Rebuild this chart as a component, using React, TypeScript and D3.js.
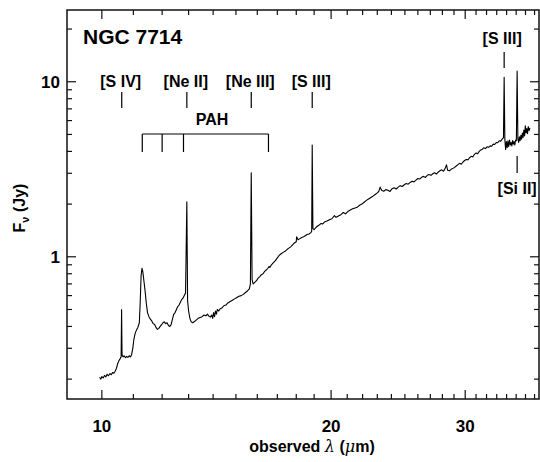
import React from "react";
import * as d3 from "d3";

const wavelength = [
  9.93, 9.97, 10.0, 10.04, 10.08, 10.12, 10.16, 10.2, 10.25, 10.29, 10.33, 10.37, 10.41, 10.45, 10.49, 10.53,
  10.57, 10.6, 10.615, 10.63, 10.66, 10.7, 10.74, 10.78, 10.82, 10.86, 10.9, 10.94, 10.98, 11.02, 11.06, 11.1,
  11.15, 11.2, 11.23, 11.26, 11.29, 11.32, 11.36, 11.4, 11.44, 11.48, 11.53, 11.58, 11.63, 11.68, 11.73, 11.78,
  11.83, 11.88, 11.93, 11.98, 12.03, 12.08, 12.13, 12.18, 12.23, 12.28, 12.33, 12.38, 12.43, 12.48, 12.53, 12.58,
  12.63, 12.68, 12.73, 12.78, 12.83, 12.88, 12.93, 12.96, 13.0, 13.05, 13.1, 13.16, 13.22, 13.3, 13.38, 13.46,
  13.54, 13.62, 13.7, 13.76, 13.82, 13.88, 13.94, 13.98, 14.02, 14.06, 14.1, 14.14, 14.18, 14.24, 14.3, 14.38,
  14.46, 14.55, 14.64, 14.74, 14.84, 14.94, 15.04, 15.14, 15.24, 15.34, 15.44, 15.54, 15.62, 15.67, 15.71, 15.75,
  15.8, 15.88, 15.96, 16.04, 16.12, 16.2, 16.28, 16.36, 16.44, 16.52, 16.58, 16.62, 16.7, 16.8, 16.9, 17.0,
  17.1, 17.2, 17.3, 17.4, 17.5, 17.6, 17.7, 17.8, 17.9, 18.0, 18.02, 18.1, 18.2, 18.3, 18.4, 18.5,
  18.6, 18.7, 18.8, 18.86, 18.89, 18.93, 19.0, 19.1, 19.2, 19.3, 19.4, 19.5, 19.6, 19.75, 19.9, 20.05,
  20.2, 20.3, 20.45, 20.6, 20.75, 20.9, 21.05, 21.2, 21.35, 21.5, 21.65, 21.8, 21.95, 22.1, 22.25, 22.4,
  22.55, 22.7, 22.85, 23.0, 23.1, 23.2, 23.3, 23.45, 23.6, 23.75, 23.9, 24.05, 24.2, 24.35, 24.5, 24.65,
  24.8, 24.95, 25.1, 25.25, 25.4, 25.55, 25.7, 25.85, 26.0, 26.15, 26.3, 26.45, 26.6, 26.75, 26.9, 27.05,
  27.2, 27.35, 27.5, 27.65, 27.8, 27.95, 28.1, 28.25, 28.35, 28.45, 28.6, 28.75, 28.9, 29.05, 29.2, 29.35,
  29.5, 29.65, 29.8, 29.95, 30.1, 30.25, 30.4, 30.55, 30.7, 30.85, 31.0, 31.15, 31.3, 31.45, 31.6, 31.75,
  31.9, 32.05, 32.2, 32.35, 32.5, 32.65, 32.8, 32.95, 33.1, 33.25, 33.4, 33.55, 33.68, 33.75, 33.82, 33.9,
  33.98, 34.06, 34.14, 34.22, 34.3, 34.38, 34.46, 34.54, 34.62, 34.7, 34.78, 34.86, 34.94, 35.02, 35.1, 35.18,
  35.26, 35.34, 35.42, 35.5, 35.58, 35.66, 35.74, 35.82, 35.9, 35.98, 36.06, 36.14, 36.22, 36.3, 36.4, 36.48,
];
const flux = [
  0.205, 0.2, 0.207, 0.203, 0.21, 0.206, 0.213, 0.209, 0.215, 0.212, 0.218, 0.216, 0.222, 0.23, 0.245, 0.255,
  0.262, 0.268, 0.5, 0.275, 0.268, 0.272, 0.265, 0.27, 0.266, 0.272, 0.268, 0.275, 0.3, 0.34, 0.365, 0.38,
  0.395, 0.42, 0.55, 0.78, 0.86, 0.82, 0.72, 0.63, 0.54, 0.48, 0.455, 0.44, 0.43, 0.415, 0.41, 0.395,
  0.385, 0.39, 0.4, 0.41, 0.42, 0.425, 0.415, 0.42, 0.405, 0.4, 0.41, 0.44, 0.47, 0.48, 0.5, 0.52,
  0.53, 0.55, 0.57, 0.58, 0.6, 0.62, 2.06, 0.56, 0.49, 0.445, 0.425, 0.42, 0.425, 0.435, 0.445, 0.45,
  0.455, 0.465, 0.46, 0.47, 0.458, 0.452, 0.465, 0.445, 0.48, 0.455, 0.49, 0.47, 0.5, 0.49, 0.505, 0.51,
  0.525, 0.53, 0.545, 0.555, 0.565, 0.575, 0.585, 0.595, 0.6, 0.61, 0.625, 0.64, 0.655, 0.7, 3.02, 0.74,
  0.7, 0.715, 0.73, 0.755, 0.77, 0.79, 0.8, 0.825, 0.84, 0.86, 0.88, 0.87, 0.9, 0.925, 0.95, 0.985,
  1.02, 1.04, 1.06, 1.075, 1.1, 1.12, 1.14, 1.17, 1.2, 1.22, 1.3, 1.25, 1.27, 1.29, 1.3, 1.32,
  1.34, 1.35, 1.37, 1.4, 4.35, 1.45, 1.43, 1.47, 1.5, 1.52, 1.55, 1.54, 1.58, 1.6, 1.63, 1.65,
  1.72, 1.68, 1.71, 1.74, 1.79, 1.76, 1.82, 1.85, 1.88, 1.9, 1.92, 1.97, 2.0, 2.05, 2.1, 2.14,
  2.18, 2.22, 2.27, 2.32, 2.36, 2.5, 2.4, 2.37, 2.42, 2.4, 2.36, 2.45, 2.48, 2.44, 2.5, 2.55,
  2.52, 2.58, 2.62, 2.6, 2.66, 2.7, 2.68, 2.74, 2.8, 2.78, 2.85, 2.88, 2.84, 2.92, 2.95, 2.92,
  2.98, 3.02, 2.97, 3.05, 3.1, 3.14, 3.08, 3.22, 3.35, 3.12, 3.1, 3.16, 3.2, 3.24, 3.3, 3.36,
  3.42, 3.38, 3.48, 3.55, 3.6, 3.58, 3.68, 3.75, 3.72, 3.85, 3.92, 3.88, 4.0, 4.08, 4.12, 4.2,
  4.15, 4.25, 4.22, 4.3, 4.28, 4.4, 4.38, 4.5, 4.48, 4.6, 4.58, 4.7, 4.8, 10.6, 4.7, 4.1,
  4.55, 4.2, 4.6, 4.25, 4.65, 4.35, 4.5, 4.3, 4.62, 4.4, 4.55, 4.35, 4.65, 4.6, 11.5, 4.7,
  4.5, 4.85, 4.6, 4.95, 4.7, 5.1, 4.8, 5.3, 4.9, 5.6, 5.1, 5.4, 5.05, 5.55, 5.25, 5.45,
];

// emission line identifications
const lineNames = ["[S IV]", "[Ne II]", "[Ne III]", "[S III]"];
const lineWaves = [10.62, 12.93, 15.71, 18.89];
const farNames = ["[S III]", "[Si II]"];
const farWaves = [33.75, 35.1];
const pahWaves = [11.3, 12.0, 12.8, 16.55];

const xTickLabels = [10, 20, 30];
const yTickLabels = [1, 10];

const FONT = "'Liberation Sans', Arial, Helvetica, sans-serif";

export default function App() {
  const left = 67, right = 539, top = 10, bottom = 399;
  const x = d3.scaleLog().domain([9.0, 37.5]).range([left, right]);
  const y = d3.scaleLog().domain([0.154, 25.7]).range([bottom, top]);

  const xMinor = d3.range(10, 38);
  const yMinor = [0.2, 0.3, 0.4, 0.5, 0.6, 0.7, 0.8, 0.9, 2, 3, 4, 5, 6, 7, 8, 9, 20];

  const pts = wavelength.map((w, i) => [w, flux[i]] as [number, number]);
  const line = d3.line<[number, number]>().x((d) => x(d[0])).y((d) => y(d[1]));

  const major = 9, minor = 5;

  return (
    <svg width={540} height={462} style={{ position: "absolute", left: 0, top: 0 }}>
      <rect width={540} height={462} fill="#fff" />
      <g fontFamily={FONT} fontWeight="bold" fill="#000">
        {/* frame */}
        <rect x={left} y={top} width={right - left} height={bottom - top} fill="none" stroke="#111" strokeWidth={1.5} />

        {/* x ticks, bottom and top */}
        {xMinor.map((v) => {
          const len = xTickLabels.includes(v) ? major : minor;
          return (
            <g key={"x" + v} stroke="#111" strokeWidth={1.2}>
              <line x1={x(v)} x2={x(v)} y1={bottom} y2={bottom - len} />
              <line x1={x(v)} x2={x(v)} y1={top} y2={top + len} />
            </g>
          );
        })}
        {xTickLabels.map((v) => (
          <text key={"xl" + v} x={x(v)} y={432} textAnchor="middle" fontSize={17}>
            {v}
          </text>
        ))}

        {/* y ticks, left and right */}
        {[...yMinor, ...yTickLabels].map((v) => {
          const len = yTickLabels.includes(v) ? major : minor;
          return (
            <g key={"y" + v} stroke="#111" strokeWidth={1.2}>
              <line x1={left} x2={left + len} y1={y(v)} y2={y(v)} />
              <line x1={right} x2={right - len} y1={y(v)} y2={y(v)} />
            </g>
          );
        })}
        {yTickLabels.map((v) => (
          <text key={"yl" + v} x={60} y={y(v)} dy="0.36em" textAnchor="end" fontSize={17}>
            {v}
          </text>
        ))}

        {/* axis titles */}
        <text x={312} y={452} textAnchor="middle" fontSize={16}>
          observed <tspan fontStyle="italic" fontWeight="normal" fontFamily="'DejaVu Serif', serif">λ</tspan> (
          <tspan fontStyle="italic" fontWeight="normal" fontFamily="'DejaVu Serif', serif">μ</tspan>m)
        </text>
        <text transform="translate(25,208) rotate(-90)" textAnchor="middle" fontSize={16}>
          F<tspan fontSize={11} dy={4}>ν</tspan>
          <tspan dy={-4}> (Jy)</tspan>
        </text>

        {/* spectrum */}
        <path d={line(pts) ?? ""} fill="none" stroke="#000" strokeWidth={1.1} strokeLinejoin="round" />

        <text x={83} y={43.5} fontSize={21}>NGC 7714</text>

        {/* line ids */}
        {lineNames.map((n, i) => (
          <g key={"ln" + i}>
            <text x={x(lineWaves[i]) - 1} y={86.5} textAnchor="middle" fontSize={16}>
              {n}
            </text>
            <line x1={x(lineWaves[i])} x2={x(lineWaves[i])} y1={92} y2={108} stroke="#000" strokeWidth={1.2} />
          </g>
        ))}
        <text x={x(farWaves[0]) - 2} y={43.5} textAnchor="middle" fontSize={16}>
          {farNames[0]}
        </text>
        <line x1={x(farWaves[0])} x2={x(farWaves[0])} y1={52} y2={68} stroke="#000" strokeWidth={1.2} />
        <text x={x(farWaves[1])} y={194} textAnchor="middle" fontSize={16}>
          {farNames[1]}
        </text>
        <line x1={x(farWaves[1])} x2={x(farWaves[1])} y1={156} y2={173} stroke="#000" strokeWidth={1.2} />

        {/* PAH bracket */}
        <text x={212} y={125} textAnchor="middle" fontSize={16}>PAH</text>
        <g stroke="#000" strokeWidth={1.2} fill="none">
          <line x1={x(pahWaves[0])} x2={x(pahWaves[pahWaves.length - 1])} y1={134} y2={134} />
          {pahWaves.map((w, i) => (
            <line key={"p" + i} x1={x(w)} x2={x(w)} y1={134} y2={152} />
          ))}
        </g>
      </g>
    </svg>
  );
}
